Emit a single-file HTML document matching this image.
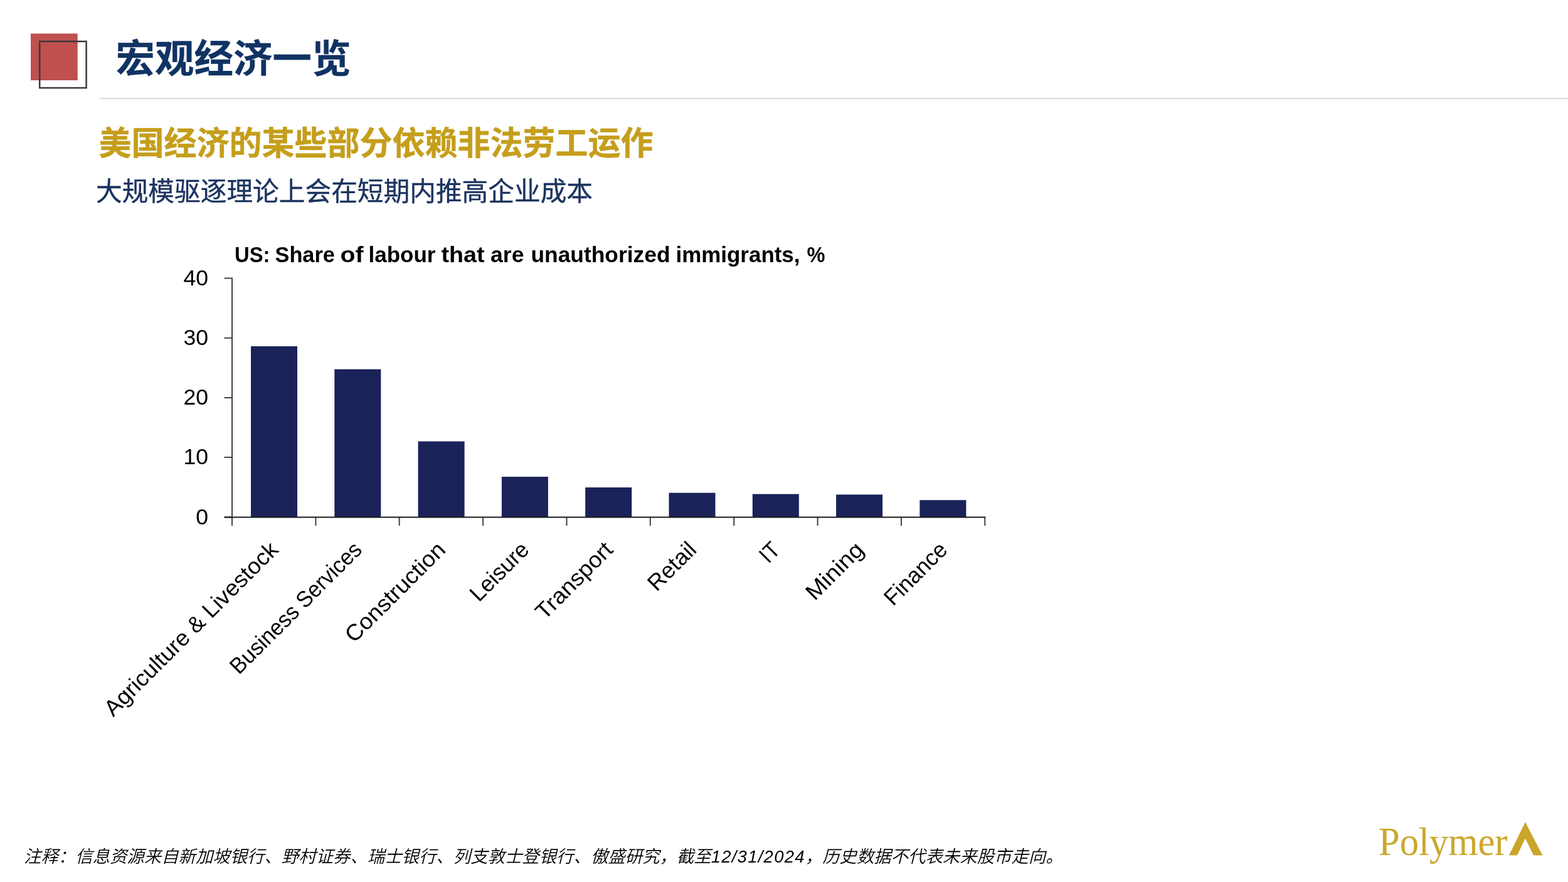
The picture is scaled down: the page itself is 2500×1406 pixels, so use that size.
<!DOCTYPE html>
<html lang="zh-CN">
<head>
<meta charset="utf-8">
<title>宏观经济一览</title>
<style>
html,body{margin:0;padding:0;background:#fff;}
body{width:2500px;height:1406px;position:relative;overflow:hidden;font-family:"Liberation Sans","Noto Sans CJK SC",sans-serif;}
h1,h2,p{margin:0;padding:0;}
.abs{position:absolute;white-space:nowrap;line-height:1;}
#rule{left:160px;top:156px;width:2340px;height:2px;background:#d9d9d9;}
#title{left:184.5px;top:63px;font-size:62.5px;font-weight:700;color:#113363;-webkit-text-stroke:0.3px #113363;}
#sub{left:157.5px;top:203px;font-size:52px;font-weight:700;color:#c59e1c;-webkit-text-stroke:0.5px #c59e1c;}
#sub2{left:153px;top:285px;font-size:41.7px;font-weight:400;color:#1c3460;-webkit-text-stroke:0.4px #1c3460;}
#note{left:38px;top:1352px;font-size:27.4px;font-style:italic;font-weight:350;color:#000;}
#note span{letter-spacing:1.3px;}
#chart{left:0;top:0;}
#chart text{font-family:"Liberation Sans",sans-serif;fill:#000;}
</style>
</head>
<body>
<div class="abs" id="rule"></div>
<h1 class="abs" id="title">宏观经济一览</h1>
<h2 class="abs" id="sub">美国经济的某些部分依赖非法劳工运作</h2>
<p class="abs" id="sub2">大规模驱逐理论上会在短期内推高企业成本</p>
<svg class="abs" id="chart" width="2500" height="1406" viewBox="0 0 2500 1406">
<rect x="49" y="53.5" width="74.7" height="74.5" fill="#c0504d"/>
<rect x="63.2" y="66" width="74.4" height="74.1" fill="none" stroke="#3b3838" stroke-width="2.5"/>
<text y="417.5" font-size="35" font-weight="700"><tspan x="374.1" textLength="56.4" lengthAdjust="spacingAndGlyphs">US:</tspan> <tspan x="438.5" textLength="95.4" lengthAdjust="spacingAndGlyphs">Share</tspan> <tspan x="542.5" textLength="37.0" lengthAdjust="spacingAndGlyphs">of</tspan> <tspan x="587.5" textLength="107.0" lengthAdjust="spacingAndGlyphs">labour</tspan> <tspan x="703.5" textLength="69.0" lengthAdjust="spacingAndGlyphs">that</tspan> <tspan x="782.1" textLength="53.4" lengthAdjust="spacingAndGlyphs">are</tspan> <tspan x="846.5" textLength="222.0" lengthAdjust="spacingAndGlyphs">unauthorized</tspan> <tspan x="1077.5" textLength="198.0" lengthAdjust="spacingAndGlyphs">immigrants,</tspan> <tspan x="1286.5" textLength="29.0" lengthAdjust="spacingAndGlyphs">%</tspan></text>
<g fill="#1a2259">
<rect x="400.0" y="552.0" width="74" height="272.5"/>
<rect x="533.3" y="588.6" width="74" height="235.9"/>
<rect x="666.6" y="703.6" width="74" height="120.9"/>
<rect x="799.9" y="760.0" width="74" height="64.5"/>
<rect x="933.2" y="777.0" width="74" height="47.5"/>
<rect x="1066.5" y="785.6" width="74" height="38.9"/>
<rect x="1199.8" y="787.6" width="74" height="36.9"/>
<rect x="1333.1" y="788.4" width="74" height="36.1"/>
<rect x="1466.4" y="797.2" width="74" height="27.3"/>
</g>
<g stroke="#444" stroke-width="2" fill="none">
<path d="M357.5 443.5H370.0M357.5 538.7H370.0M357.5 634H370.0M357.5 729H370.0M357.5 824.5H370.0M370.0 442.5V838M503.4 824.5V838M636.7 824.5V838M770.1 824.5V838M903.5 824.5V838M1036.8 824.5V838M1170.2 824.5V838M1303.6 824.5V838M1437.0 824.5V838M1570.3 824.5V838"/>
<path stroke="#1a1a1a" d="M357.5 824.5H1571.3"/>
</g>
<g font-size="35.6">
<text x="332" y="454.9" text-anchor="end">40</text>
<text x="332" y="550.1" text-anchor="end">30</text>
<text x="332" y="645.4" text-anchor="end">20</text>
<text x="332" y="740.4" text-anchor="end">10</text>
<text x="332" y="835.9" text-anchor="end">0</text>
</g>
<g font-size="36">
<text x="445.7" y="878.5" text-anchor="end" textLength="375" lengthAdjust="spacingAndGlyphs" transform="rotate(-45 445.7 878.5)">Agriculture &amp; Livestock</text>
<text x="579.1" y="878.5" text-anchor="end" textLength="280" lengthAdjust="spacingAndGlyphs" transform="rotate(-45 579.1 878.5)">Business Services</text>
<text x="712.4" y="878.5" text-anchor="end" textLength="209" lengthAdjust="spacingAndGlyphs" transform="rotate(-45 712.4 878.5)">Construction</text>
<text x="845.8" y="878.5" text-anchor="end" textLength="116.4" lengthAdjust="spacingAndGlyphs" transform="rotate(-45 845.8 878.5)">Leisure</text>
<text x="979.2" y="878.5" text-anchor="end" textLength="157" lengthAdjust="spacingAndGlyphs" transform="rotate(-45 979.2 878.5)">Transport</text>
<text x="1112.5" y="878.5" text-anchor="end" textLength="92.5" lengthAdjust="spacingAndGlyphs" transform="rotate(-45 1112.5 878.5)">Retail</text>
<text x="1245.9" y="878.5" text-anchor="end" textLength="29.6" lengthAdjust="spacingAndGlyphs" transform="rotate(-45 1245.9 878.5)">IT</text>
<text x="1379.3" y="878.5" text-anchor="end" textLength="113.4" lengthAdjust="spacingAndGlyphs" transform="rotate(-45 1379.3 878.5)">Mining</text>
<text x="1512.7" y="878.5" text-anchor="end" textLength="125.6" lengthAdjust="spacingAndGlyphs" transform="rotate(-45 1512.7 878.5)">Finance</text>
</g>
<g fill="#c9a52a">
<text x="2198" y="1363.3" font-size="62.5" textLength="205.5" lengthAdjust="spacingAndGlyphs" style="font-family:'Liberation Serif',serif;fill:#cba82e">Polymer</text>
<path d="M2431.9 1310.4L2459.4 1363.5H2445L2431.9 1336.6L2419 1363.5H2405.9Z"/>
</g>
</svg>
<p class="abs" id="note">注释：信息资源来自新加坡银行、野村证券、瑞士银行、列支敦士登银行、傲盛研究，截至<span>12/31/2024</span>，历史数据不代表未来股市走向。</p>
</body>
</html>
